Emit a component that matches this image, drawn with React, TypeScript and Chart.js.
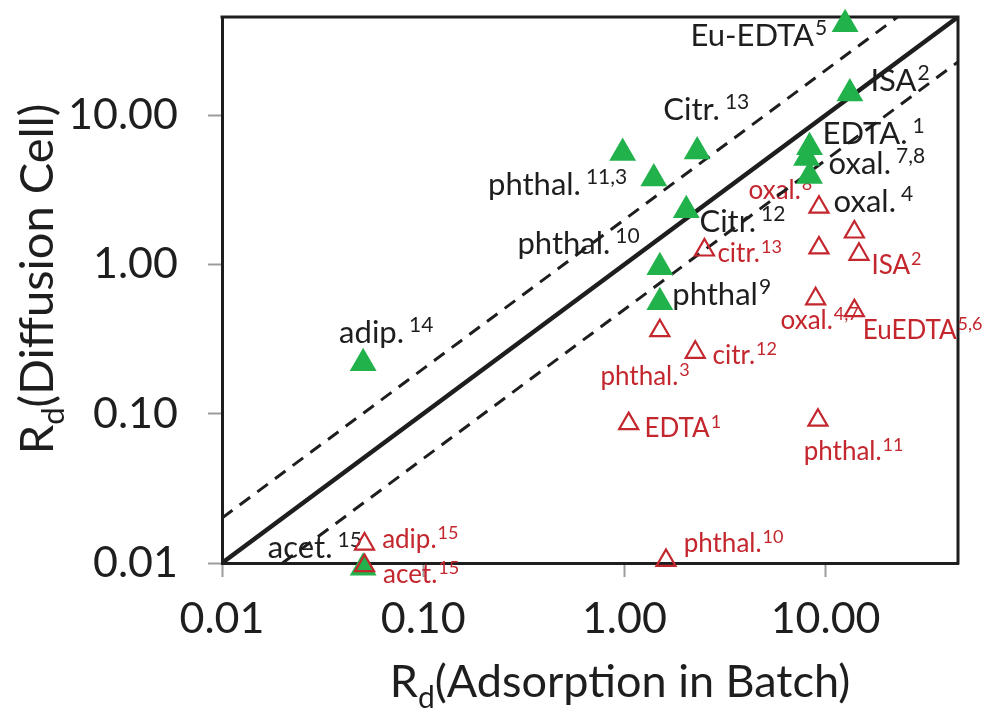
import React, { useEffect, useRef } from 'react';
import { Chart, registerables } from 'chart.js';

Chart.register(...registerables);

const FONT = 'Lato, "Noto Sans", sans-serif';
const GREEN = '#22B24C';
const RED = '#C4262E';
const INK = '#1E1E1E';

// axis
const tickValues = [0.01, 0.1, 1, 10];
const axisMin = 0.01;
const axisMax = 45.5;

// Diffusion cell (filled green triangles)
const diffX = [12.5, 13.2, 8.32, 8.04, 8.32, 0.98, 2.3, 1.4, 2.03, 1.5, 1.5, 0.0503, 0.0503];
const diffY = [40.7, 14.0, 6.11, 5.16, 3.91, 5.59, 5.72, 3.76, 2.31, 0.959, 0.559, 0.218, 0.0093];

// Batch (open red triangles)
const batchX = [9.27, 13.9, 9.27, 14.65, 2.5, 13.9, 8.92, 1.5, 2.25, 1.05, 9.16, 0.0511, 0.0511, 1.61];
const batchY = [2.42, 1.65, 1.29, 1.17, 1.25, 0.49, 0.589, 0.36, 0.258, 0.0859, 0.0905, 0.0134, 0.0096, 0.0104];

// reference lines (1:1 and factor 2)
const oneToOneX = [0.01, 45.5];
const oneToOneY = [0.01, 45.5];
const upperX = [0.01, 22.75];
const upperY = [0.02, 45.5];
const lowerX = [0.02, 45.5];
const lowerY = [0.01, 22.75];

// labels for green points (black)
const blackText = ['Eu-EDTA', 'ISA', 'Citr.', 'EDTA.', 'oxal.', 'oxal.', 'phthal.', 'phthal.', 'Citr.', 'phthal', 'adip.', 'acet.'];
const blackSup = ['5', '2', '13', '1', '7,8', '4', '11,3', '10', '12', '9', '14', '15'];
const blackLabelX = [2.13, 16.7, 1.56, 9.66, 10.35, 10.96, 0.21, 0.294, 2.36, 1.73, 0.0382, 0.0169];
const blackLabelY = [29.0, 14.5, 9.27, 6.4, 4.03, 2.24, 2.92, 1.17, 1.65, 0.535, 0.298, 0.0108];

// labels for red points
const redText = ['oxal.', 'citr.', 'ISA', 'oxal.', 'EuEDTA', 'citr.', 'phthal.', 'EDTA', 'phthal.', 'adip.', 'acet.', 'phthal.'];
const redSup = ['8', '13', '2', '4,7', '5,6', '12', '3', '1', '11', '15', '15', '10'];
const redLabelX = [4.14, 2.9, 16.9, 5.97, 15.3, 2.74, 0.76, 1.26, 7.78, 0.0625, 0.0632, 1.97];
const redLabelY = [2.74, 1.04, 0.863, 0.369, 0.316, 0.215, 0.156, 0.0698, 0.049, 0.0126, 0.00735, 0.0119];

const xTitleMain = 'R';
const xTitleSub = 'd';
const xTitleRest = '(Adsorption in Batch)';
const yTitleMain = 'R';
const yTitleSub = 'd';
const yTitleRest = '(Diffusion Cell)';

function drawSup(ctx: CanvasRenderingContext2D, x: number, y: number, main: string, sup: string,
  size: number, supSize: number, raise: number, gap: number, color: string) {
  ctx.fillStyle = color;
  ctx.textAlign = 'left';
  ctx.textBaseline = 'alphabetic';
  ctx.font = `${size}px ${FONT}`;
  ctx.fillText(main, x, y);
  const w = ctx.measureText(main).width;
  ctx.font = `${supSize}px ${FONT}`;
  ctx.fillText(sup, x + w + (main.endsWith('.') ? gap : 1), y - raise);
}

function drawSubTitle(ctx: CanvasRenderingContext2D, cx: number, y: number, a: string, sub: string, b: string,
  size: number, subSize: number, drop: number) {
  ctx.font = `${size}px ${FONT}`;
  const wa = ctx.measureText(a).width;
  const wb = ctx.measureText(b).width;
  ctx.font = `${subSize}px ${FONT}`;
  const ws = ctx.measureText(sub).width;
  const total = wa + ws + wb;
  let x = cx - total / 2;
  ctx.fillStyle = INK;
  ctx.textAlign = 'left';
  ctx.textBaseline = 'alphabetic';
  ctx.font = `${size}px ${FONT}`;
  ctx.fillText(a, x, y);
  x += wa;
  ctx.font = `${subSize}px ${FONT}`;
  ctx.fillText(sub, x, y + drop);
  x += ws;
  ctx.font = `${size}px ${FONT}`;
  ctx.fillText(b, x, y);
}

const decorPlugin = {
  id: 'decor',
  beforeDatasetsDraw(chart: any) {
    const { ctx, chartArea, scales } = chart;
    const xs = scales.x;
    const ys = scales.y;
    ctx.save();
    // frame top and right
    ctx.strokeStyle = INK;
    ctx.lineWidth = 3;
    ctx.beginPath();
    ctx.moveTo(chartArea.left - 1.5, chartArea.top);
    ctx.lineTo(chartArea.right, chartArea.top);
    ctx.lineTo(chartArea.right, chartArea.bottom + 1.5);
    ctx.stroke();
    // labels
    blackText.forEach((t, i) => {
      drawSup(ctx, xs.getPixelForValue(blackLabelX[i]), ys.getPixelForValue(blackLabelY[i]), t, blackSup[i], 31, 21, 11, 5, INK);
    });
    redText.forEach((t, i) => {
      drawSup(ctx, xs.getPixelForValue(redLabelX[i]), ys.getPixelForValue(redLabelY[i]), t, redSup[i], 26, 18, 9, 1, RED);
    });
    ctx.restore();
  },
  afterDraw(chart: any) {
    const { ctx } = chart;
    ctx.save();
    drawSubTitle(ctx, 620, 697, xTitleMain, xTitleSub, xTitleRest, 45, 30, 11);
    ctx.translate(53, 279);
    ctx.rotate(-Math.PI / 2);
    drawSubTitle(ctx, 0, 0, yTitleMain, yTitleSub, yTitleRest, 47, 31, 11);
    ctx.restore();
  },
};

function pts(xs: number[], ys: number[]) {
  return xs.map((x, i) => ({ x, y: ys[i] }));
}

function axis(fit: (s: any) => void, pad: number) {
  return {
    type: 'logarithmic' as const,
    min: axisMin,
    max: axisMax,
    afterBuildTicks: (s: any) => {
      s.ticks = tickValues.map((v) => ({ value: v }));
    },
    afterFit: (s: any) => {
      fit(s);
      s.paddingTop = 0;
      s.paddingBottom = 0;
      s.paddingLeft = 0;
      s.paddingRight = 0;
    },
    grid: {
      display: true,
      drawOnChartArea: false,
      drawTicks: true,
      tickLength: 14,
      tickColor: '#9C9C9C',
      tickWidth: 2,
    },
    border: { display: true, color: INK, width: 3 },
    ticks: {
      font: { family: FONT, size: 43 },
      color: INK,
      padding: pad,
      autoSkip: false,
      maxRotation: 0,
      callback: (v: any) => Number(v).toFixed(2),
    },
  };
}

export default function App() {
  const ref = useRef<HTMLCanvasElement | null>(null);
  useEffect(() => {
    let chart: Chart | null = null;
    let cancelled = false;
    const make = () => {
      if (cancelled || !ref.current) return;
      const xAxis: any = axis((s) => { s.height = 151; }, 16);
      xAxis.position = 'bottom';
      const yAxis: any = axis((s) => { s.width = 222; }, 30);
      yAxis.position = 'left';
      chart = new Chart(ref.current, {
        type: 'scatter',
        data: {
          datasets: [
            {
              label: 'Batch',
              data: pts(batchX, batchY),
              pointStyle: 'triangle',
              pointRadius: 11,
              pointBorderWidth: 2.2,
              borderColor: RED,
              backgroundColor: 'rgba(0,0,0,0)',
              clip: false,
            } as any,
            {
              label: 'Diffusion',
              data: pts(diffX, diffY),
              pointStyle: 'triangle',
              pointRadius: 15.5,
              pointBorderWidth: 0,
              borderColor: GREEN,
              backgroundColor: GREEN,
              clip: false,
            } as any,
            {
              type: 'line',
              label: '1:1',
              data: pts(oneToOneX, oneToOneY),
              borderColor: INK,
              borderWidth: 4.5,
              pointRadius: 0,
              fill: false,
            } as any,
            {
              type: 'line',
              label: 'x2',
              data: pts(upperX, upperY),
              borderColor: INK,
              borderWidth: 3,
              borderDash: [13, 9],
              pointRadius: 0,
              fill: false,
            } as any,
            {
              type: 'line',
              label: 'x0.5',
              data: pts(lowerX, lowerY),
              borderColor: INK,
              borderWidth: 3,
              borderDash: [13, 9],
              pointRadius: 0,
              fill: false,
            } as any,
          ],
        },
        options: {
          responsive: false,
          animation: false,
          layout: { padding: { top: 17, right: 32, left: 0, bottom: 0 } },
          plugins: { legend: { display: false }, tooltip: { enabled: false } },
          scales: { x: xAxis, y: yAxis },
        } as any,
        plugins: [decorPlugin],
      });
    };
    const fonts: any = (document as any).fonts;
    if (fonts && fonts.load) {
      Promise.all([fonts.load(`43px ${FONT}`), fonts.load(`20px ${FONT}`)]).then(make, make);
    } else {
      make();
    }
    return () => {
      cancelled = true;
      if (chart) chart.destroy();
    };
  }, []);
  return (
    <div style={{ position: 'fixed', left: 0, top: 0, width: 990, height: 714, background: '#fff' }}>
      <canvas ref={ref} width={990} height={714} style={{ width: 990, height: 714 }} />
    </div>
  );
}
